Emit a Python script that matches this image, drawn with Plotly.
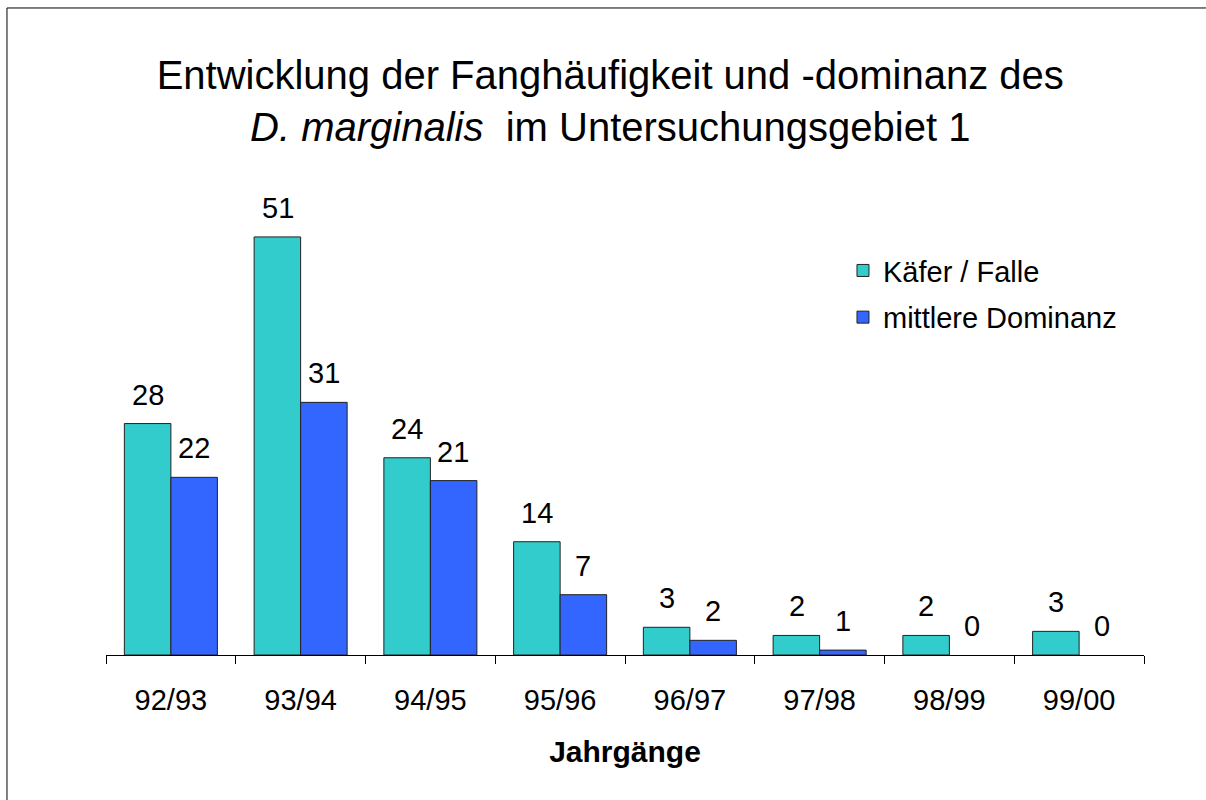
import plotly.graph_objects as go

categories = ["92/93", "93/94", "94/95", "95/96", "96/97", "97/98", "98/99", "99/00"]
kaefer_falle = [28.4, 51.3, 24.2, 13.9, 3.4, 2.4, 2.4, 2.9]
mittlere_dominanz = [21.8, 31.0, 21.4, 7.4, 1.8, 0.6, 0.0, 0.0]
series_names = ["Käfer / Falle", "mittlere Dominanz"]
series_colors = ["#33CCCC", "#3366FF"]

FONT = "Liberation Sans, Arial, sans-serif"

fig = go.Figure()
for i, (name, vals, col) in enumerate(zip(series_names, [kaefer_falle, mittlere_dominanz], series_colors)):
    fig.add_trace(go.Bar(
        x=categories, y=vals, name=name,
        marker=dict(color=col, line=dict(color="#222222", width=[1 if v > 0 else 0 for v in vals])),
        legendgroup=name,
    ))
    shift = -23 if i == 0 else 23
    for c, v in zip(categories, vals):
        fig.add_annotation(
            x=c, y=v, xref="x", yref="y", text=f"{v:.0f}", showarrow=False,
            xshift=shift, yshift=29, yanchor="middle",
            font=dict(family=FONT, size=29, color="black"),
        )

# outer frame (only left and top edges visible in reference)
fig.add_shape(type="line", xref="paper", yref="paper",
              x0=-0.0954, x1=-0.0954, y0=-0.32, y1=1.4127,
              line=dict(color="black", width=1), layer="below")
fig.add_shape(type="line", xref="paper", yref="paper",
              x0=-0.0954, x1=1.0597, y0=1.4127, y1=1.4127,
              line=dict(color="black", width=1), layer="below")

fig.update_layout(
    width=1206, height=800,
    margin=dict(l=106, r=62, t=197, b=145),
    paper_bgcolor="white", plot_bgcolor="white",
    barmode="group", bargap=0.283, bargroupgap=0,
    font=dict(family=FONT, color="black"),
    title=dict(
        text="Entwicklung der Fanghäufigkeit und -dominanz des<br><i>D. marginalis</i>  im Untersuchungsgebiet 1",
        x=0.506, xref="container", xanchor="center",
        y=0.8885, yref="container", yanchor="middle",
        font=dict(family=FONT, size=40, color="black"),
    ),
    legend=dict(
        x=0.71, y=0.895, xanchor="left", yanchor="top",
        font=dict(family=FONT, size=29, color="black"),
        traceorder="grouped", tracegroupgap=6,
        bgcolor="rgba(0,0,0,0)",
    ),
    xaxis=dict(
        showline=True, linecolor="black", linewidth=1,
        ticks="outside", ticklen=8, tickcolor="black", tickson="boundaries",
        tickfont=dict(family=FONT, size=29, color="black"),
        ticklabelstandoff=19,
        title=dict(text="<b>Jahrgänge</b>", font=dict(family=FONT, size=30, color="black"), standoff=26),
        showgrid=False, zeroline=False,
    ),
    yaxis=dict(range=[0, 56.2], visible=False, showgrid=False, zeroline=False),
)

fig.write_html("out.html", config={"displayModeBar": False},
               post_script="document.body.style.margin='0';")
